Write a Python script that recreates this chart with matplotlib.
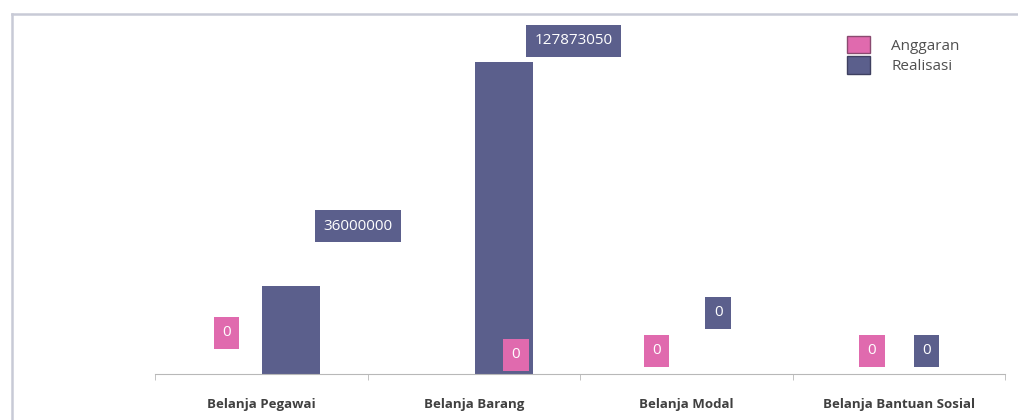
import matplotlib
matplotlib.use("Agg")
import matplotlib.pyplot as plt
from matplotlib.lines import Line2D
from matplotlib.patches import Patch
import numpy as np

plt.rcParams['font.family'] = ['Open Sans', 'DejaVu Sans']

categories = ['Belanja Pegawai', 'Belanja Barang', 'Belanja Modal', 'Belanja Bantuan Sosial']
anggaran = [0, 0, 0, 0]
realisasi = [36000000, 127873050, 0, 0]

pink = '#e06aae'
navy = '#5b5f8c'

# label offsets in pixels from the bar top (labels were moved by hand in the original)
ang_off = [(-5, 41), (72, 19), (0, 23), (3, 23)]
real_off = [(67, 60), (70, 21), (2, 61), (-2, 23)]

fig = plt.figure(figsize=(10.18, 4.2), dpi=100)
ax = fig.add_axes([155 / 1018, 46 / 420, 850 / 1018, 360 / 420])

x = np.arange(len(categories))
w = 0.273
off = 0.141
ax.bar(x - off, anggaran, w, color=pink, zorder=2)
ax.bar(x + off, realisasi, w, color=navy, zorder=2)

ax.set_xlim(-0.5, len(categories) - 0.5)
ax.set_ylim(0, 1.475e8)

for i in range(len(categories)):
    ax.annotate(str(anggaran[i]), (x[i] - off, anggaran[i]), xytext=ang_off[i],
                textcoords='offset pixels', ha='center', va='center', fontsize=11,
                color='white', zorder=5,
                bbox=dict(boxstyle='square,pad=0.55', fc=pink, ec='none'))
    ax.annotate(str(realisasi[i]), (x[i] + off, realisasi[i]), xytext=real_off[i],
                textcoords='offset pixels', ha='center', va='center', fontsize=11,
                color='white', zorder=5,
                bbox=dict(boxstyle='square,pad=0.55', fc=navy, ec='none'))

for s in ['top', 'right', 'left']:
    ax.spines[s].set_visible(False)
ax.spines['bottom'].set_color('#b8b8b8')
ax.set_yticks([])
ax.set_xticks(x)
ax.set_xticklabels(categories, fontsize=9.5, fontweight='bold', color='#404040')
ax.tick_params(axis='x', length=0, pad=17)
ax.set_xticks(np.arange(len(categories) + 1) - 0.5, minor=True)
ax.tick_params(axis='x', which='minor', length=4, color='#b8b8b8')

handles = [Patch(fc=pink, ec='#8a4a70', label='Anggaran'),
           Patch(fc=navy, ec='#3e4060', label='Realisasi')]
ax.legend(handles=handles, loc='upper left', bbox_to_anchor=(833 / 1018, 1 - 22 / 420),
          bbox_transform=fig.transFigure, frameon=False, fontsize=11,
          handlelength=1.5, handleheight=1.4, handletextpad=1.4, labelspacing=0.15,
          labelcolor='#505050')

# outer frame (left and top edges visible)
fig.add_artist(Line2D([12 / 1018, 12 / 1018], [0, 1 - 14 / 420], color='#c8cad6', lw=1.8))
fig.add_artist(Line2D([12 / 1018, 1], [1 - 14 / 420, 1 - 14 / 420], color='#c8cad6', lw=1.8))

fig.savefig('out.png', dpi=100)
